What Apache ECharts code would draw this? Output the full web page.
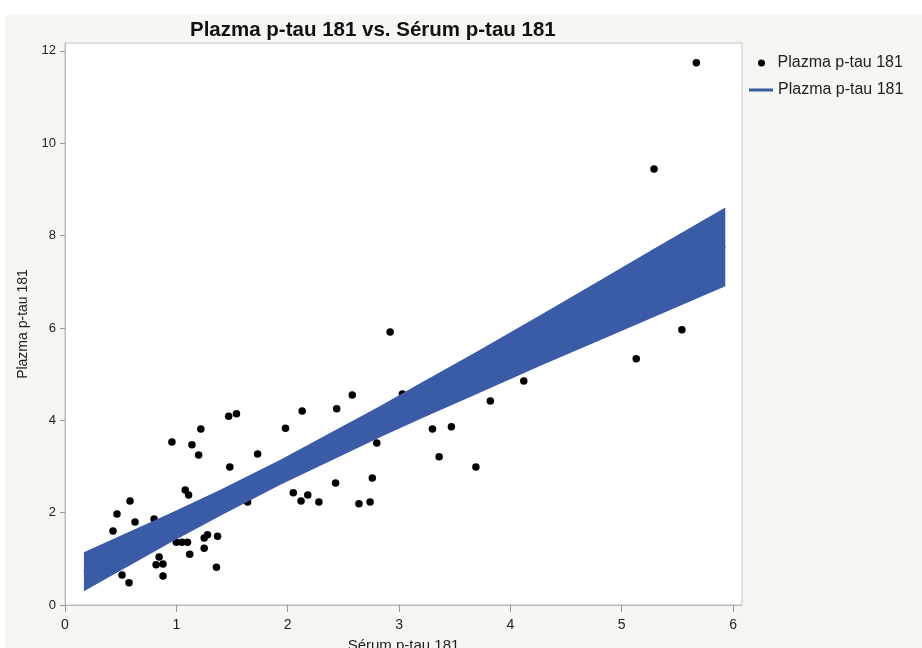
<!DOCTYPE html>
<html>
<head>
<meta charset="utf-8">
<script src="https://cdn.jsdelivr.net/npm/echarts@6/dist/echarts.min.js"></script>
<style>
  html, body { margin: 0; padding: 0; background: #ffffff; }
  #chart { position: absolute; left: 5px; top: 15px; width: 917px; height: 633px; }
</style>
</head>
<body>
<div id="chart"></div>
<script>
// Serum vs plasma p-tau 181 measurements
const serum = [0.431, 0.467, 0.512, 0.575, 0.584, 0.629, 0.80, 0.818, 0.845, 0.88,
  0.88, 0.96, 1.00, 1.05, 1.10, 1.08, 1.11, 1.14, 1.12, 1.20,
  1.22, 1.25, 1.25, 1.28, 1.36, 1.37, 1.47, 1.54, 1.48, 1.64,
  1.73, 1.98, 2.05, 2.12, 2.13, 2.18, 2.28, 2.43, 2.44, 2.58,
  2.64, 2.74, 2.76, 2.80, 2.92, 3.03, 3.30, 3.36, 3.47, 3.69,
  3.82, 4.12, 5.13, 5.54, 5.29, 5.67];
const plasma = [1.60, 1.97, 0.65, 0.48, 2.25, 1.80, 1.86, 0.87, 1.04, 0.89,
  0.63, 3.53, 1.36, 1.36, 1.36, 2.49, 2.38, 3.47, 1.10, 3.25,
  3.81, 1.23, 1.45, 1.52, 0.82, 1.49, 4.09, 4.14, 2.99, 2.23,
  3.27, 3.83, 2.43, 2.25, 4.20, 2.38, 2.23, 2.64, 4.25, 4.55,
  2.19, 2.23, 2.75, 3.51, 5.91, 4.57, 3.81, 3.21, 3.86, 2.99,
  4.42, 4.85, 5.33, 5.96, 9.44, 11.74];

// Fitted line and its confidence band
const fitX = [0.17, 5.93];
const fitY = [0.72, 7.76];
const bandX = [0.17, 0.94, 1.40, 1.93, 2.83, 3.19, 3.70, 4.27, 4.81, 5.30, 5.93];
const bandUpper = [1.14, 1.98, 2.50, 3.14, 4.31, 4.80, 5.49, 6.28, 7.04, 7.73, 8.61];
const bandLower = [0.30, 1.34, 1.94, 2.60, 3.63, 4.03, 4.57, 5.18, 5.74, 6.25, 6.90];

const xTicks = [0, 1, 2, 3, 4, 5, 6];
const yTicks = [0, 2, 4, 6, 8, 10, 12];

const FONT = 'Liberation Sans, Arial, Helvetica, sans-serif';
const BLUE = '#3a5ba6';
const LABEL_NAME = 'Plazma p-tau 181';

const chart = echarts.init(document.getElementById('chart'), null, { renderer: 'canvas' });

const bandData = bandX.map((x, i) => [x, bandLower[i], bandUpper[i]]);

chart.setOption({
  backgroundColor: '#f6f6f2',
  animation: false,
  textStyle: { fontFamily: FONT },
  title: {
    text: 'Plazma p-tau 181 vs. Sérum p-tau 181',
    left: 180,
    top: 0,
    textStyle: { fontFamily: FONT, fontSize: 20.5, fontWeight: 'bold', color: '#111' }
  },
  legend: [
    {
      data: [{ name: 'points', icon: 'circle' }],
      orient: 'vertical', left: 748, top: 35,
      itemWidth: 8, itemHeight: 7,
      formatter: () => LABEL_NAME,
      textStyle: { fontFamily: FONT, fontSize: 16, color: '#222', padding: [0, 0, 0, 7] },
      selectedMode: false
    },
    {
      data: [{ name: 'fit', icon: 'rect' }],
      orient: 'vertical', left: 739, top: 62,
      itemWidth: 24, itemHeight: 3,
      formatter: () => LABEL_NAME,
      textStyle: { fontFamily: FONT, fontSize: 16, color: '#222' },
      selectedMode: false
    }
  ],
  grid: {
    left: 60, top: 28, width: 677, height: 562,
    outerBoundsMode: 'none',
    containLabel: false,
    show: true, backgroundColor: '#ffffff', borderColor: '#c4c4c4', borderWidth: 1
  },
  xAxis: {
    type: 'value', min: 0, max: 6.08,
    name: 'Sérum p-tau 181', nameLocation: 'middle', nameGap: 33,
    nameTextStyle: { fontFamily: FONT, fontSize: 15, color: '#222' },
    axisLine: { show: true, lineStyle: { color: '#b8b8b8' } },
    axisTick: { show: true, length: 7, customValues: xTicks, lineStyle: { color: '#999' } },
    axisLabel: { customValues: xTicks, fontFamily: FONT, fontSize: 14, color: '#222', margin: 13 },
    splitLine: { show: false }
  },
  yAxis: {
    type: 'value', min: 0, max: 12.17,
    name: 'Plazma p-tau 181', nameLocation: 'middle', nameGap: 35,
    nameTextStyle: { fontFamily: FONT, fontSize: 14, color: '#222' },
    axisLine: { show: true, lineStyle: { color: '#b8b8b8' } },
    axisTick: { show: true, length: 5, customValues: yTicks, lineStyle: { color: '#999' } },
    axisLabel: { customValues: yTicks, fontFamily: FONT, fontSize: 13, color: '#222', margin: 9 },
    splitLine: { show: false }
  },
  series: [
    {
      name: 'points',
      type: 'scatter',
      data: serum.map((x, i) => [x, plasma[i]]),
      symbol: 'circle',
      symbolSize: 7.5,
      itemStyle: { color: '#000', opacity: 1 },
      z: 2
    },
    {
      name: 'band',
      type: 'custom',
      data: bandData,
      encode: { x: 0, y: [1, 2] },
      clip: true,
      z: 3,
      renderItem: (params, api) => {
        if (params.dataIndex !== 0) return null;
        const upper = bandData.map(d => api.coord([d[0], d[2]]));
        const lower = bandData.map(d => api.coord([d[0], d[1]])).reverse();
        return {
          type: 'polygon',
          shape: { points: upper.concat(lower) },
          style: { fill: BLUE }
        };
      }
    },
    {
      name: 'fit',
      type: 'line',
      data: fitX.map((x, i) => [x, fitY[i]]),
      showSymbol: false,
      lineStyle: { color: BLUE, width: 2 },
      itemStyle: { color: BLUE },
      z: 4
    }
  ]
});
</script>
</body>
</html>
